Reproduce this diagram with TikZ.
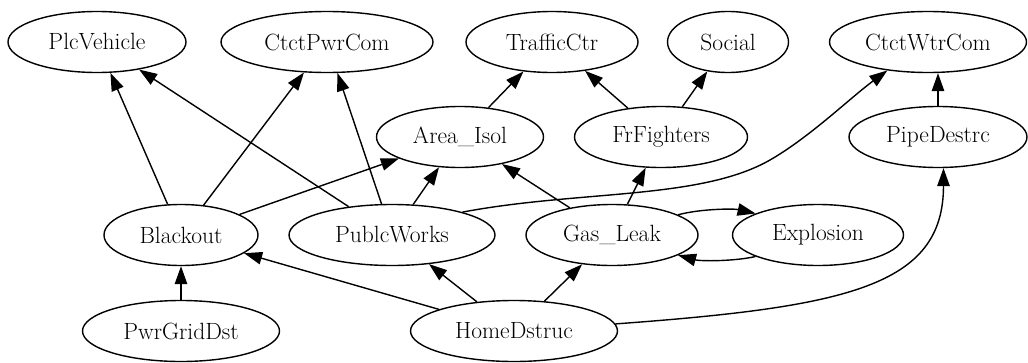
\documentclass[tikz,border=0pt]{standalone}
\usepackage{fontspec}
\usetikzlibrary{arrows.meta,shapes.geometric}

\begin{document}
\begin{tikzpicture}[
    x=1pt, y=-1pt,
    ev/.style={draw, ellipse, line width=1.4pt, inner sep=0pt, minimum height=61pt, font=\fontsize{23.5}{28}\selectfont},
    edge/.style={-{Triangle[length=18pt, width=12.5pt]}, line width=1.4pt}
  ]
    \useasboundingbox (0,0) rectangle (1028,362);
    % top row
    \node[ev, minimum width=178pt] (PlcVehicle) at (97,42) {PlcVehicle};
    \node[ev, minimum width=212pt] (CtctPwrCom) at (327,42) {CtctPwrCom};
    \node[ev, minimum width=172pt] (TrafficCtr) at (552,42) {TrafficCtr};
    \node[ev, minimum width=121pt] (Social) at (728,42) {Social};
    \node[ev, minimum width=197pt] (CtctWtrCom) at (928,42) {CtctWtrCom};
    % second row
    \node[ev, minimum width=167pt] (AreaIsol) at (460,137) {Area\_Isol};
    \node[ev, minimum width=173pt] (FrFighters) at (661,137) {FrFighters};
    \node[ev, minimum width=178pt] (PipeDestrc) at (938,137) {PipeDestrc};
    % third row
    \node[ev, minimum width=154pt] (Blackout) at (181,235) {Blackout};
    \node[ev, minimum width=206pt] (PublcWorks) at (392,235) {PublcWorks};
    \node[ev, minimum width=172pt] (GasLeak) at (612,235) {Gas\_Leak};
    \node[ev, minimum width=171pt] (Explosion) at (818,235) {Explosion};
    % bottom row
    \node[ev, minimum width=197pt] (PwrGridDst) at (181,331) {PwrGridDst};
    \node[ev, minimum width=207pt] (HomeDstruc) at (514,331) {HomeDstruc};

    \draw[edge] (Blackout) -- (PlcVehicle);
    \draw[edge] (Blackout) -- (CtctPwrCom);
    \draw[edge] (Blackout) -- (AreaIsol);
    \draw[edge] (PublcWorks) -- (PlcVehicle);
    \draw[edge] (PublcWorks) -- (CtctPwrCom);
    \draw[edge] (PublcWorks) -- (AreaIsol);
    \draw[edge] (PublcWorks.18) .. controls (580,190) and (700,200) .. (770,160)
                .. controls (810,137) and (850,98) .. (CtctWtrCom.-145);
    \draw[edge] (GasLeak) -- (AreaIsol);
    \draw[edge] (GasLeak) -- (FrFighters);
    \draw[edge] (GasLeak.17) .. controls +(22,-6) and +(-22,-5) .. (Explosion.161);
    \draw[edge] (Explosion.-161) .. controls +(-22,5) and +(22,6) .. (GasLeak.-17);
    \draw[edge] (AreaIsol) -- (TrafficCtr);
    \draw[edge] (FrFighters) -- (TrafficCtr);
    \draw[edge] (FrFighters) -- (Social);
    \draw[edge] (PipeDestrc.north) -- (PipeDestrc.north |- CtctWtrCom.south);
    \draw[edge] (PwrGridDst) -- (Blackout);
    \draw[edge] (HomeDstruc) -- (Blackout);
    \draw[edge] (HomeDstruc) -- (PublcWorks);
    \draw[edge] (HomeDstruc) -- (GasLeak);
    \draw[edge] (HomeDstruc.4) .. controls +(232,-17) and +(0,118) .. (PipeDestrc.-80);
  \end{tikzpicture}
\end{document}
